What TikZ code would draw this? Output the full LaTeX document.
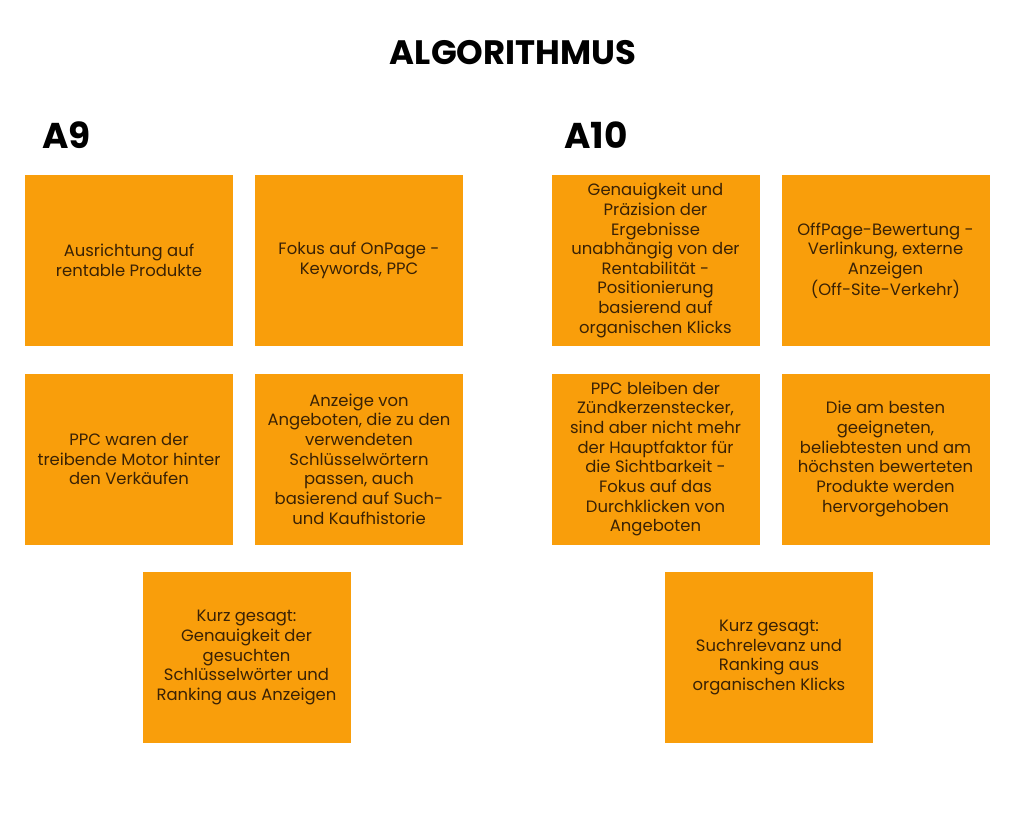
\documentclass[tikz,border=0pt]{standalone}
\usepackage{fontspec}
\setmainfont{Poppins}
\definecolor{boxor}{HTML}{F99E0B}
\definecolor{txt}{HTML}{3A2205}
\begin{document}
\begin{tikzpicture}[x=1bp,y=-1bp,
  card/.style={fill=boxor, draw=none, minimum width=208bp, minimum height=171bp,
    inner sep=0pt, align=center, text=txt, font=\fontsize{16.5}{19.7}\selectfont},
  head/.style={font=\fontsize{36}{40}\selectfont\bfseries, text=black, inner sep=0pt, anchor=west},
  ttl/.style={font=\fontsize{34}{38}\selectfont\bfseries, text=black, inner sep=0pt}]
\useasboundingbox (0,0) rectangle (1024,819);
\fill[white] (0,0) rectangle (1024,819);
\node[ttl] (title) at (513,53) {ALGORITHMUS};
\node[head] (a9) at (42,135) {A9};
\node[head] (a10) at (564,135) {A10};
% A9
\node[card] (b1) at (129,260.5) {Ausrichtung auf\\rentable Produkte};
\node[card] (b2) at (359,260.5) {Fokus auf OnPage -\\Keywords, PPC};
\node[card] (b3) at (129,459) {PPC waren der\\treibende Motor hinter\\den Verkäufen};
\node[card] (b4) at (359,459) {Anzeige von\\Angeboten, die zu den\\verwendeten\\Schlüsselwörtern\\passen, auch\\basierend auf Such-\\und Kaufhistorie};
\node[card] (b5) at (246.5,657.5) {Kurz gesagt:\\Genauigkeit der\\gesuchten\\Schlüsselwörter und\\Ranking aus Anzeigen};
% A10
\node[card] (c1) at (655.5,260.5) {Genauigkeit und\\Präzision der\\Ergebnisse\\unabhängig von der\\Rentabilität -\\Positionierung\\basierend auf\\organischen Klicks};
\node[card] (c2) at (885.5,260.5) {OffPage-Bewertung -\\Verlinkung, externe\\Anzeigen\\(Off-Site-Verkehr)};
\node[card] (c3) at (655.5,459) {PPC bleiben der\\Zündkerzenstecker,\\sind aber nicht mehr\\der Hauptfaktor für\\die Sichtbarkeit -\\Fokus auf das\\Durchklicken von\\Angeboten};
\node[card] (c4) at (885.5,459) {Die am besten\\geeigneten,\\beliebtesten und am\\höchsten bewerteten\\Produkte werden\\hervorgehoben};
\node[card] (c5) at (769,657.5) {Kurz gesagt:\\Suchrelevanz und\\Ranking aus\\organischen Klicks};
\end{tikzpicture}
\end{document}
